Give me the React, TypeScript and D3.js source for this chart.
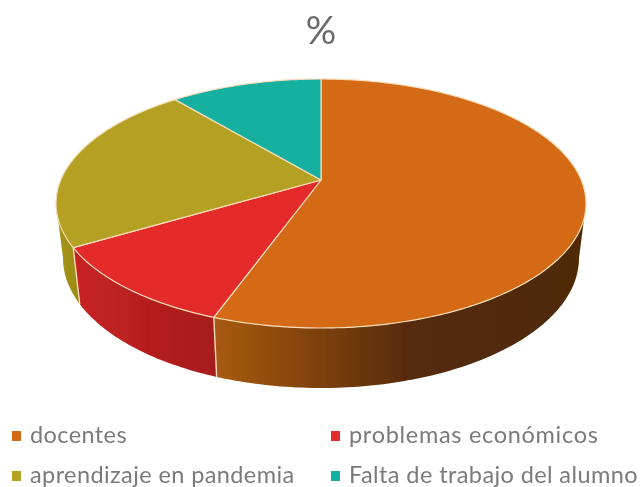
import React from "react";
import * as d3 from "d3";

const categories = ["docentes", "problemas económicos", "aprendizaje en pandemia", "Falta de trabajo del alumno"];
const values = [55.5, 11.0, 22.4, 11.1];
const topColors = ["#d56b16", "#e52b2b", "#b4a020", "#12b0a0"];
const sideStops = [
  [["0%", "#a85a12"], ["30%", "#7a3f0a"], ["55%", "#54290a"], ["100%", "#4f2a06"]],
  [["0%", "#c62222"], ["100%", "#a61c1c"]],
  [["0%", "#a39218"], ["100%", "#9a8a16"]],
  [["0%", "#0e8f82"], ["100%", "#0e8f82"]],
];
const titleText = "%";

const W = 642, H = 487;
const apexX = 321, apexY = 180;
const topCy = 203.5, topRx = 265, topRy = 124.5;
const botCy = 258, botRx = 258, botRy = 130;
const yBack = 79 - apexY, yFront = 328 - apexY;
// perspective mapping of the pie disc
const persp = (yFront + yBack) / (yFront - yBack);
const a = yFront * (1 - persp);
const d = topRx * Math.sqrt(1 - persp * persp);

function topPoint(theta: number): [number, number] {
  const u = Math.sin(theta), v = -Math.cos(theta);
  const k = 1 - persp * v;
  return [apexX + (d * u) / k, apexY + (a * v) / k];
}
function botPoint(theta: number): [number, number] {
  const [x, y] = topPoint(theta);
  return [apexX + ((x - apexX) * botRx) / topRx, botCy + ((y - topCy) * botRy) / topRy];
}
const vFront = (topCy - apexY) / (a + persp * (topCy - apexY));
const frontStart = Math.acos(-vFront);
const frontEnd = 2 * Math.PI - frontStart;

const samples = (t0: number, t1: number) => {
  const n = Math.max(2, Math.ceil(Math.abs(t1 - t0) * 60));
  return d3.range(n + 1).map((i) => t0 + ((t1 - t0) * i) / n);
};

const arcs = d3.pie<number>().sort(null)(values);
const line = d3.line();
const edge = "#f6dcb8";

const legendX = d3.scalePoint<number>().domain([0, 1]).range([12, 331]);
const legendY = d3.scalePoint<number>().domain([0, 1]).range([436, 476]);

export default function App() {
  return (
    <svg width={W} height={H} style={{ position: "absolute", left: 0, top: 0, background: "#fff" }}>
      <defs>
        <filter id="soft" x="-5%" y="-5%" width="110%" height="110%">
          <feGaussianBlur stdDeviation="0.6" />
        </filter>
        {arcs.map((s, i) => {
          const t0 = Math.max(s.startAngle, frontStart);
          const t1 = Math.min(s.endAngle, frontEnd);
          const xa = botPoint(t0)[0], xb = botPoint(t1)[0];
          return (
            <linearGradient key={i} id={`side${i}`} gradientUnits="userSpaceOnUse" x1={Math.min(xa, xb)} x2={Math.max(xa, xb)} y1={0} y2={0}>
              {sideStops[i].map(([o, c]) => (
                <stop key={o} offset={o} stopColor={c} />
              ))}
            </linearGradient>
          );
        })}
      </defs>
      <g filter="url(#soft)">
        <text x={321} y={44} textAnchor="middle" fontFamily="Lato" fontWeight={400} fontSize={38} fill="#6a6a6a">{titleText}</text>
        {arcs.map((s, i) => {
          const t0 = Math.max(s.startAngle, frontStart);
          const t1 = Math.min(s.endAngle, frontEnd);
          if (t1 <= t0) return null;
          const ts = samples(t0, t1);
          const pts = [...ts.map(topPoint), ...[...ts].reverse().map(botPoint)];
          return <path key={i} d={line(pts) + "Z"} fill={`url(#side${i})`} />;
        })}
        {arcs.map((s, i) => {
          const isEdge = s.startAngle > frontStart && s.startAngle < frontEnd;
          return isEdge ? (
            <path key={i} d={line([topPoint(s.startAngle), botPoint(s.startAngle)]) as string} stroke={edge} strokeWidth={1.4} fill="none" />
          ) : null;
        })}
        {arcs.map((s, i) => {
          const pts = [[apexX, apexY] as [number, number], ...samples(s.startAngle, s.endAngle).map(topPoint)];
          return <path key={i} d={line(pts) + "Z"} fill={topColors[i]} stroke={edge} strokeWidth={1.2} strokeLinejoin="round" />;
        })}
        {categories.map((c, i) => {
          const x = legendX(i % 2)!, y = legendY(Math.floor(i / 2))!;
          return (
            <g key={c}>
              <rect x={x} y={y - 5} width={9} height={10} fill={topColors[i]} />
              <text x={x + 18} y={y + 7} fontFamily="Lato" fontSize={23.5} fontWeight={400} fill="#7a7a7a" letterSpacing={i === 1 ? 0.7 : 0.4}>{c}</text>
            </g>
          );
        })}
      </g>
    </svg>
  );
}
